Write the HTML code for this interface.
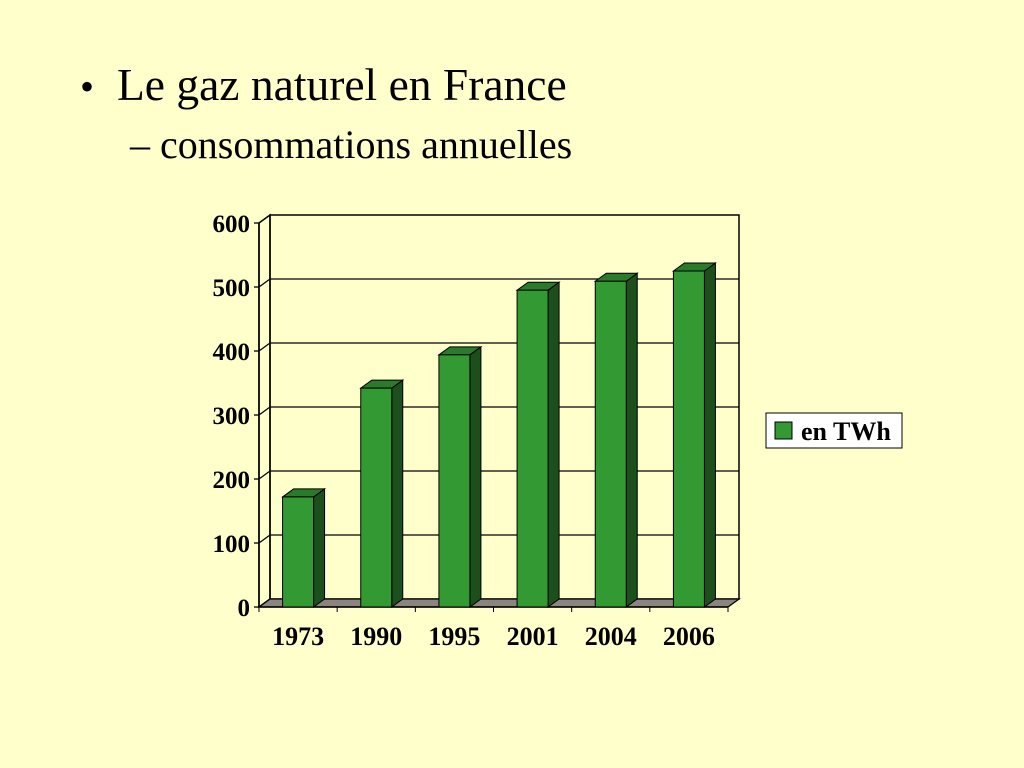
<!DOCTYPE html>
<html><head><meta charset="utf-8"><style>
body{margin:0;width:1024px;height:768px;background:#ffffcc;overflow:hidden;font-family:"Liberation Serif",serif;}
</style></head><body>
<svg id="c" width="1024" height="768" style="position:absolute;left:0;top:0">
<text x="80" y="100" font-size="40" font-family="Liberation Serif,serif">•</text>
<text x="117" y="100" font-size="45.5" font-family="Liberation Serif,serif">Le gaz naturel en France</text>
<text x="130" y="158" font-size="40" font-family="Liberation Serif,serif">– consommations annuelles</text>
</svg>
<script>
const categories=["1973","1990","1995","2001","2004","2006"];
const values=[172,342,394,495,509,525];
const yTicks=[0,100,200,300,400,500,600];
const seriesName="en TWh";
const NS="http://www.w3.org/2000/svg",svg=document.getElementById('c');
function mk(t,a,p){const e=document.createElementNS(NS,t);for(const k in a)e.setAttribute(k,a[k]);(p||svg).appendChild(e);return e;}
const X0=259,X1=728,Y0=607,DX=11,DY=-8,PPU=0.64;
const y=v=>Y0-v*PPU;
const band=(X1-X0)/categories.length;
const xc=i=>X0+band*(i+0.5);
let w=mk('rect',{x:X0+DX,y:y(600)+DY,width:X1-X0,height:600*PPU,fill:'none',stroke:'#000','stroke-width':1.5});

let sw=mk('polygon',{points:`${X0},${y(600)} ${X0+DX},${y(600)+DY} ${X0+DX},${Y0+DY} ${X0},${Y0}`,fill:'none',stroke:'#000','stroke-width':1.5});

yTicks.forEach(v=>{
 if(v>0&&v<600){const g=mk('line',{x1:X0+DX,x2:X1+DX,y1:y(v)+DY,y2:y(v)+DY,stroke:'#000','stroke-width':1.3});
 
 const s=mk('line',{x1:X0,x2:X0+DX,y1:y(v),y2:y(v)+DY,stroke:'#000','stroke-width':1.3});
 }
 const tk=mk('line',{x1:X0-5,x2:X0,y1:y(v),y2:y(v),stroke:'#000','stroke-width':1.3});
 
 const t=mk('text',{x:X0-9,y:y(v)+9,'text-anchor':'end','font-size':25,'font-weight':'bold','font-family':'Liberation Serif,serif'});
 t.textContent=v;
});
const fl=mk('polygon',{points:`${X0},${Y0} ${X1},${Y0} ${X1+DX},${Y0+DY} ${X0+DX},${Y0+DY}`,fill:'#8a8580',stroke:'#000','stroke-width':1.3});

const ax=mk('line',{x1:X0,x2:X0,y1:y(600),y2:Y0,stroke:'#000','stroke-width':1.5});

const xa=mk('line',{x1:X0,x2:X1,y1:Y0,y2:Y0,stroke:'#000','stroke-width':1.5});

for(let i=0;i<=categories.length;i++){const l=mk('line',{x1:X0+band*i,x2:X0+band*i,y1:Y0,y2:Y0+5,stroke:'#000'});
 }
const BW=31;
categories.forEach((c,i)=>{
 const g=mk('g',{});
 const l=xc(i)-BW/2,r=l+BW,t=y(values[i]);
 mk('polygon',{points:`${r},${t} ${r+DX},${t+DY} ${r+DX},${Y0+DY} ${r},${Y0}`,fill:'#1c4f1c',stroke:'#000','stroke-width':1},g);
 mk('polygon',{points:`${l},${t} ${l+DX},${t+DY} ${r+DX},${t+DY} ${r},${t}`,fill:'#2b7a2b',stroke:'#000','stroke-width':1},g);
 mk('rect',{x:l,y:t,width:BW,height:Y0-t,fill:'#339933',stroke:'#000','stroke-width':1},g);
 const tx=mk('text',{x:xc(i),y:645,'text-anchor':'middle','font-size':26,'font-weight':'bold','font-family':'Liberation Serif,serif'});
 tx.textContent=c;
});
const lg=mk('g',{});
mk('rect',{x:766,y:413,width:136,height:35,fill:'#fff',stroke:'#000','stroke-width':1},lg);
mk('rect',{x:775,y:422,width:17,height:17,fill:'#339933',stroke:'#000'},lg);
const lt=mk('text',{x:801,y:440,'font-size':26,'font-weight':'bold','font-family':'Liberation Serif,serif'},lg);
lt.textContent=seriesName;
</script>
</body></html>
